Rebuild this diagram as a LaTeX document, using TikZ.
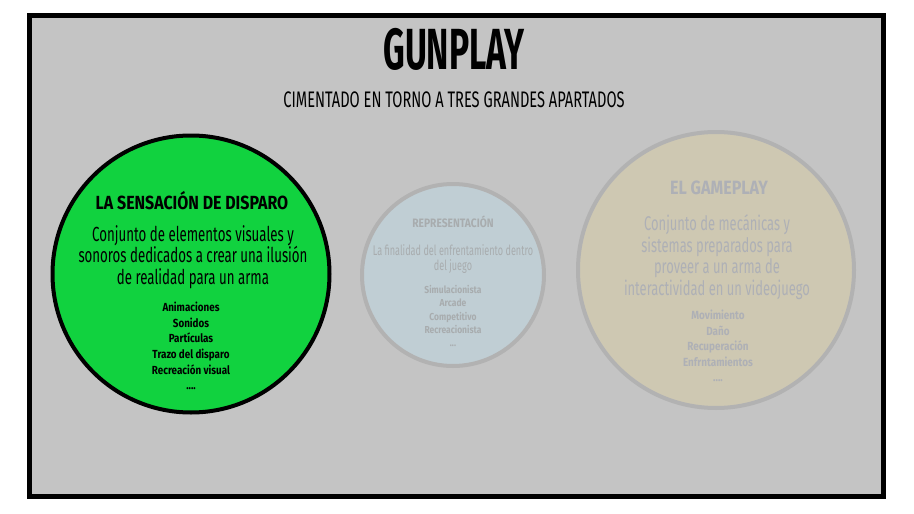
\documentclass[tikz,border=0pt]{standalone}
\usepackage{fontspec}
\setmainfont{Fira Sans}[FakeStretch=0.65,BoldFeatures={FakeStretch=0.84}]
\newfontfamily\estrecha{Fira Sans}[FakeStretch=0.58]
\definecolor{fondo}{RGB}{196,196,196}
\definecolor{verde}{RGB}{17,210,63}
\definecolor{azul}{RGB}{192,206,212}
\definecolor{arena}{RGB}{206,200,178}
\definecolor{borde}{RGB}{178,178,178}
\definecolor{tenue}{RGB}{168,172,174}
\definecolor{tenuearena}{RGB}{174,176,182}

\begin{document}
\begin{tikzpicture}[x=1pt,y=-1pt,
    circulo/.style={circle,line width=4pt,inner sep=0pt},
    texto/.style={align=center,inner sep=0pt}]
    \useasboundingbox (0,0) rectangle (914,514);
    \fill[white] (0,0) rectangle (914,514);
    \draw[line width=5pt,fill=fondo] (29.5,15.5) rectangle (883.5,496.5);

    \node[texto,font={\estrecha\bfseries\fontsize{58}{62}\selectfont}] (titulo) at (454,49) {GUNPLAY};
    \node[texto,font=\fontsize{22.5}{25}\selectfont] (subtitulo) at (454,100) {CIMENTADO EN TORNO A TRES GRANDES APARTADOS};

    % la sensacion de disparo
    \node[circulo,draw=black,fill=verde,minimum size=277pt] (sensacion) at (191,274) {};
    \node[texto,font=\bfseries\fontsize{19}{22}\selectfont] (sensTit) at (192,201) {LA SENSACIÓN DE DISPARO};
    \node[texto,font=\fontsize{20.4}{21.5}\selectfont] (sensDesc) at (193,257) {Conjunto de elementos visuales y\\sonoros dedicados a crear una ilusión\\de realidad para un arma};
    \node[texto,font=\bfseries\fontsize{11.7}{15.6}\selectfont] (sensLista) at (191,346) {Animaciones\\Sonidos\\Partículas\\Trazo del disparo\\Recreación visual\\....};

    % representacion
    \node[circulo,draw=borde,fill=azul,minimum size=182pt] (repr) at (453,275) {};
    \node[texto,text=tenue,font=\bfseries\fontsize{12.2}{16}\selectfont] (reprTit) at (453,222) {REPRESENTACIÓN};
    \node[texto,text=tenue,font=\fontsize{14}{14.5}\selectfont] (reprDesc) at (453,259) {La finalidad del enfrentamiento dentro\\del juego};
    \node[texto,text=tenue,font=\bfseries\fontsize{10.1}{13.4}\selectfont] (reprLista) at (453,316) {Simulacionista\\Arcade\\Competitivo\\Recreacionista\\...};

    % el gameplay
    \node[circulo,draw=borde,fill=arena,minimum size=276pt] (gameplay) at (716,270) {};
    \node[texto,text=tenuearena,font=\bfseries\fontsize{19.2}{24}\selectfont] (gameTit) at (719,188) {EL GAMEPLAY};
    \node[texto,text=tenuearena,font=\fontsize{19.9}{21.7}\selectfont] (gameDesc) at (717,257) {Conjunto de mecánicas y\\sistemas preparados para\\proveer a un arma de\\interactividad en un videojuego};
    \node[texto,text=tenuearena,font=\bfseries\fontsize{11.8}{15.5}\selectfont] (gameLista) at (718,346) {Movimiento\\Daño\\Recuperación\\Enfrntamientos\\....};
\end{tikzpicture}
\end{document}
